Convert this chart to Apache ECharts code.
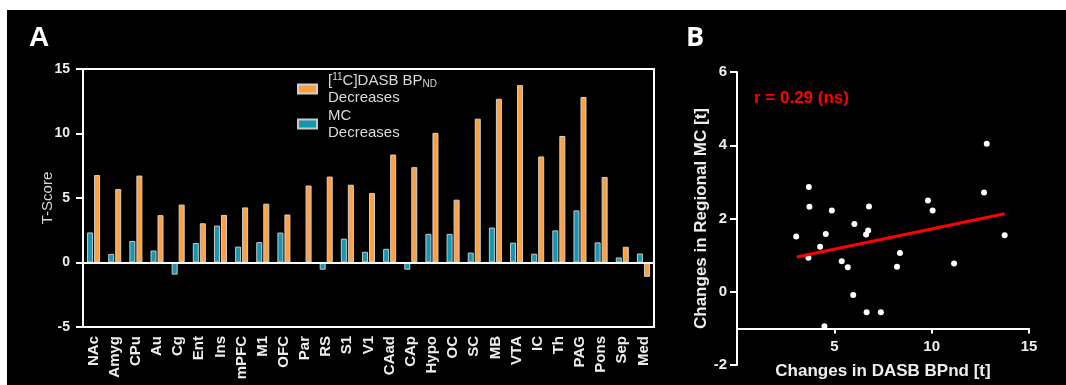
<!DOCTYPE html>
<html><head><meta charset="utf-8">
<script src="https://cdn.jsdelivr.net/npm/echarts@6/dist/echarts.min.js"></script>
<style>
html,body{margin:0;padding:0;background:#fff;}
#c{width:1066px;height:385px;background:linear-gradient(#000,#000) 7px 10px/1059px 375px no-repeat,#fff;}
</style></head><body><div id="c"></div>
<script>
// Brain regions (categories)
const regions = ['NAc','Amyg','CPu','Au','Cg','Ent','Ins','mPFC','M1','OFC','Par','RS','S1','V1','CAad','CAp','Hypo','OC','SC','MB','VTA','IC','Th','PAG','Pons','Sep','Med'];
// [11C]DASB BPND decreases (T-score)
const dasb = [6.78, 5.69, 6.74, 3.67, 4.49, 3.04, 3.69, 4.27, 4.56, 3.72, 5.97, 6.66, 6.03, 5.38, 8.37, 7.39, 10.05, 4.87, 11.15, 12.69, 13.75, 8.22, 9.81, 12.83, 6.63, 1.22, -1.11];
// MC decreases (T-score)
const mc = [2.33, 0.67, 1.67, 0.93, -0.94, 1.51, 2.86, 1.23, 1.58, 2.32, -0.09, -0.56, 1.85, 0.83, 1.06, -0.56, 2.22, 2.22, 0.77, 2.71, 1.54, 0.68, 2.49, 4.04, 1.56, 0.39, 0.70];
// regions not shown in the correlation plot
const scatterExcluded = ['Sep', 'Med'];
// regression line end points
const fitX = [3.07, 13.75];
const fitY = [0.95, 2.13];
const corrText = 'r = 0.29 (ns)';

const FF = 'Liberation Sans, Arial, sans-serif';
const TEAL = '#1497b0';
const ORANGE = '#ffa040';

const gridB = {left: 737, top: 72, right: 37, bottom: 20};
const yMinB = -2, yMaxB = 6, xCrossB = -1;
const hB = 385 - gridB.top - gridB.bottom;
const offB = -(xCrossB - yMinB) * hB / (yMaxB - yMinB);

const scatterData = regions.map((r, i) => [r, dasb[i], mc[i]])
  .filter(d => scatterExcluded.indexOf(d[0]) < 0)
  .map(d => [d[1], d[2]]);

const chart = echarts.init(document.getElementById('c'), null, {renderer: 'canvas'});
const lbl = {color: '#eee', fontSize: 15, fontWeight: 'bold', fontFamily: FF};
const txt = {fontSize: 15, color: '#d9d9d9', lineHeight: 17, fontFamily: FF};
chart.setOption({
  animation: false,
  backgroundColor: 'transparent',
  grid: [
    {left: 83, top: 69, right: 412, bottom: 58, show: true, borderColor: '#fff', borderWidth: 2, backgroundColor: 'transparent'},
    gridB
  ],
  legend: {
    data: ['DASB', 'MC'],
    orient: 'vertical', left: 297, top: 72, padding: 0,
    itemWidth: 19, itemHeight: 9, itemGap: 3,
    icon: 'rect', selectedMode: false,
    formatter: n => n === 'DASB'
      ? '{a|[}{sup|11}{t|C]DASB BP}{sub|ND}\n{a|Decreases}'
      : '{a|MC}\n{a|Decreases}',
    textStyle: {
      rich: {
        a: Object.assign({}, txt, {padding: [0, 0, 0, 6]}),
        t: txt,
        sup: {fontSize: 10, color: '#d9d9d9', lineHeight: 11, verticalAlign: 'top', fontFamily: FF},
        sub: {fontSize: 10, color: '#d9d9d9', lineHeight: 10, verticalAlign: 'bottom', fontFamily: FF}
      }
    }
  },
  xAxis: [
    {
      gridIndex: 0, type: 'category', data: regions,
      axisLine: {onZero: false, lineStyle: {color: '#fff', width: 2}},
      axisTick: {alignWithLabel: true, length: 6, lineStyle: {color: '#fff', width: 2}},
      axisLabel: Object.assign({rotate: 90, margin: 9, interval: 0}, lbl),
      splitLine: {show: false}
    },
    {
      gridIndex: 1, type: 'value', min: 0, max: 15, interval: 5, offset: offB,
      axisLine: {onZero: false, lineStyle: {color: '#fff', width: 2}},
      axisTick: {show: true, length: 5, lineStyle: {color: '#fff', width: 2}},
      axisLabel: Object.assign({margin: 11, showMinLabel: false, formatter: v => v === 0 ? '' : String(v)}, lbl),
      splitLine: {show: false},
      name: 'Changes in DASB BPnd [t]', nameLocation: 'middle', nameGap: 34, nameMoveOverlap: false,
      nameTextStyle: {color: '#eee', fontSize: 17, fontWeight: 'bold', fontFamily: FF}
    }
  ],
  yAxis: [
    {
      gridIndex: 0, type: 'value', min: -5, max: 15, interval: 5,
      axisLine: {show: true, lineStyle: {color: '#fff', width: 2}},
      axisTick: {show: true, length: 7, lineStyle: {color: '#fff', width: 2}},
      axisLabel: Object.assign({}, lbl, {fontSize: 14, margin: 13}),
      splitLine: {show: false},
      name: 'T-Score', nameLocation: 'middle', nameGap: 28, nameMoveOverlap: false,
      nameTextStyle: {color: '#d8d8d8', fontSize: 15, fontFamily: FF}
    },
    {
      gridIndex: 1, type: 'value', min: yMinB, max: yMaxB, interval: 2,
      axisLine: {show: true, lineStyle: {color: '#fff', width: 2}},
      axisTick: {show: true, length: 7, lineStyle: {color: '#fff', width: 2}},
      axisLabel: Object.assign({margin: 10}, lbl),
      splitLine: {show: false},
      name: 'Changes in Regional MC [t]', nameLocation: 'middle', nameGap: 27, nameMoveOverlap: false,
      nameTextStyle: {color: '#eee', fontSize: 17, fontWeight: 'bold', fontFamily: FF}
    }
  ],
  series: [
    {
      name: 'MC', type: 'bar', xAxisIndex: 0, yAxisIndex: 0, data: mc,
      barWidth: 6, barGap: '17%',
      itemStyle: {color: TEAL, borderColor: '#c8c8c8', borderWidth: 1},
      markLine: {
        silent: true, symbol: 'none', label: {show: false},
        lineStyle: {color: '#fff', width: 2, type: 'solid'},
        data: [{yAxis: 0}]
      }
    },
    {
      name: 'DASB', type: 'bar', xAxisIndex: 0, yAxisIndex: 0, data: dasb,
      barWidth: 6,
      itemStyle: {color: ORANGE, borderColor: '#d0d0d0', borderWidth: 1}
    },
    {
      name: 'corr', type: 'scatter', xAxisIndex: 1, yAxisIndex: 1,
      data: scatterData, symbolSize: 6, itemStyle: {color: '#fff', opacity: 1}
    },
    {
      name: 'fit', type: 'line', xAxisIndex: 1, yAxisIndex: 1,
      data: fitX.map((x, i) => [x, fitY[i]]),
      showSymbol: false, symbol: 'none',
      lineStyle: {color: '#ff0000', width: 3}
    }
  ],
  graphic: [
    {type: 'text', x: 29, y: 38, style: {text: 'A', fill: '#fff', font: 'bold 28px ' + FF, verticalAlign: 'middle'}},
    {type: 'text', x: 686, y: 38, style: {text: 'B', fill: '#fff', font: 'bold 27px "Open Sans", sans-serif', verticalAlign: 'middle'}},
    {type: 'text', x: 754, y: 98, style: {text: corrText, fill: '#ff0000', font: 'bold 17px ' + FF, verticalAlign: 'middle'}}
  ]
});
</script></body></html>
